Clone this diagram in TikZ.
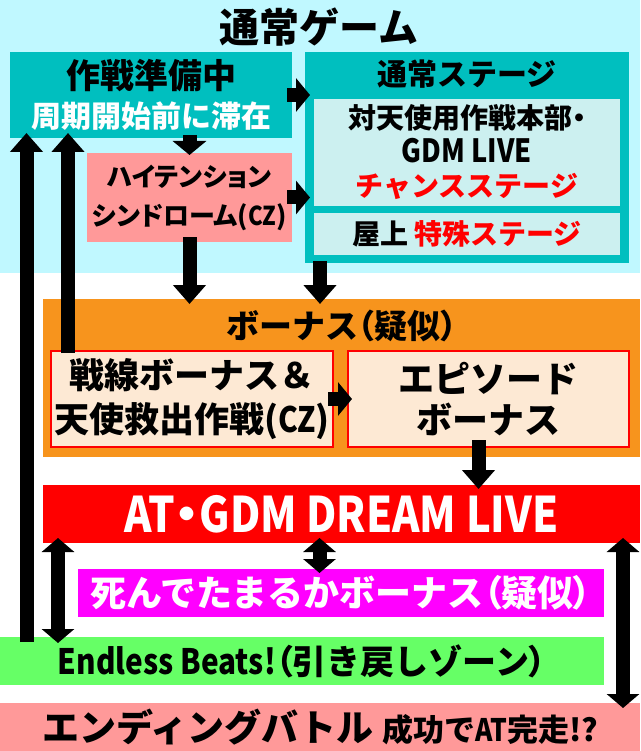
\documentclass[tikz,border=0pt]{standalone}
\usepackage{fontspec}
\setmainfont{Noto Sans CJK JP Black}
\newfontfamily\pfont{Noto Sans CJK JP Black}[RawFeature=+palt]
\newfontfamily\lat{Noto Sans CJK JP Black}[FakeStretch=0.85]
\newcommand{\openp}{{\pfont （}}
\newcommand{\closep}{{\pfont ）}}
\newcommand{\dotp}{{\pfont ・}}
\usetikzlibrary{arrows.meta}
\definecolor{cyanbg}{HTML}{C0F8FF}
\definecolor{tealbox}{HTML}{00BFBF}
\definecolor{innerbox}{HTML}{CCF0F0}
\definecolor{salmon}{HTML}{FF9999}
\definecolor{orangebox}{HTML}{F7941D}
\definecolor{peach}{HTML}{FDE9D4}
\definecolor{greenbox}{HTML}{66FF66}
\definecolor{magentabox}{HTML}{FF00FF}

\begin{document}
\begin{tikzpicture}[x=1pt,y=-1pt,
  box/.style={anchor=north west,inner sep=0pt,outer sep=0pt,align=center},
  blk/.style={line width=14pt,-{Triangle[width=32pt,length=19pt]}},
  hblk/.style={line width=14pt,-{Triangle[width=33pt,length=14pt]}},
  dblk/.style={line width=14pt,{Triangle[width=32pt,length=14pt]}-{Triangle[width=32pt,length=14pt]}}]
\useasboundingbox (0,0) rectangle (640,751);
\fill[cyanbg] (0,0) rectangle (640,273);
\node[font=\fontsize{40}{42}\selectfont] (title) at (319,27) {通常ゲーム};
\node[box,fill=tealbox,minimum width=282pt,minimum height=86pt,font=\fontsize{30}{39}\selectfont] (prep) at (10,52)
  {{\fontsize{34}{39}\selectfont 作戦準備中}\\\textcolor{white}{周期開始前に滞在}};
\node[box,fill=tealbox,minimum width=324pt,minimum height=211pt] (stage) at (305,52) {};
\node[font=\fontsize{30}{32}\selectfont] (stagetitle) at ([yshift=-22pt]stage.north) {通常ステージ};
\node[box,fill=innerbox,minimum width=306pt,minimum height=107pt,font=\fontsize{28}{34}\selectfont] (chance) at (314,99)
  {対天使用作戦本部\dotp\\{\lat\fontsize{32}{34}\selectfont GDM LIVE}\\\textcolor{red}{チャンスステージ}};
\node[box,fill=innerbox,minimum width=306pt,minimum height=42pt,font=\fontsize{28}{30}\selectfont] (roof) at (314,213)
  {屋上 \textcolor{red}{特殊ステージ}};
\node[box,fill=salmon,minimum width=205pt,minimum height=89pt,font=\pfont\fontsize{26}{39}\selectfont] (ht) at (87,153)
  {ハイテンション\\シンドローム({\lat CZ})};
\node[box,fill=orangebox,minimum width=597pt,minimum height=158pt] (bonus) at (43,299) {};
\node[font=\fontsize{33}{35}\selectfont] (bonustitle) at ([yshift=-27pt]bonus.north) {ボーナス\openp 疑似\closep};
\node[box,fill=peach,draw=red,line width=1.5pt,minimum width=282pt,minimum height=96pt,font=\fontsize{35}{44}\selectfont] (sen) at (51,351)
  {戦線ボーナス＆\\天使救出作戦({\lat CZ})};
\node[box,fill=peach,draw=red,line width=1.5pt,minimum width=281pt,minimum height=96pt,font=\fontsize{36}{41}\selectfont] (ep) at (348,351)
  {エピソード\\ボーナス};
\node[box,fill=red,text=white,minimum width=597pt,minimum height=58pt,font=\lat\fontsize{49}{50}\selectfont] (at) at (43,485)
  {AT\dotp GDM DREAM LIVE};
\node[box,fill=magentabox,text=white,minimum width=526pt,minimum height=48pt,font=\fontsize{36}{38}\selectfont] (shin) at (78,569)
  {死んでたまるかボーナス\openp 疑似\closep};
\node[box,fill=greenbox,minimum width=604pt,minimum height=48pt,font=\fontsize{34}{36}\selectfont] (endless) at (0,637)
  {{\lat\fontsize{35}{36}\selectfont Endless Beats!}\openp 引き戻しゾーン\closep};
\node[box,fill=salmon,minimum width=640pt,minimum height=48pt,font=\fontsize{37}{38}\selectfont] (ending) at (0,703)
  {エンディングバトル {\fontsize{31}{38}\selectfont 成功で{\lat AT}完走!?}};

\draw[hblk] ([xshift=-5pt]prep.east) -- ([xshift=5pt]prep.east -| stage.west);
\draw[hblk] ([xshift=-5pt]ht.east) -- ([xshift=5pt]ht.east -| stage.west);
\draw[hblk] ([yshift=3pt]ht.north |- prep.south) -- ([yshift=-2pt]ht.north);
\draw[blk] ([yshift=5pt]ht.south) -- ([yshift=-5pt]ht.south |- bonus.north);
\coordinate (stagefoot) at ([xshift=15pt]stage.south west);
\draw[blk] ([yshift=2pt]stagefoot) -- ([yshift=-5pt]stagefoot |- bonus.north);
\draw[hblk] ([xshift=-5pt]sen.east) -- ([xshift=4pt]sen.east -| ep.west);
\draw[blk] ([xshift=-10pt,yshift=7pt]ep.south) -- ([xshift=-10pt,yshift=-4pt]ep.south |- at.north);
\draw[dblk] ([xshift=-22pt,yshift=5pt]at.south) -- ([xshift=-22pt,yshift=-4pt]at.south |- shin.north);
\draw[dblk] ([xshift=15pt,yshift=5pt]at.south west) -- ([xshift=15pt,yshift=-6pt]at.south west |- endless.north);
\draw[dblk] ([xshift=-17pt,yshift=5pt]at.south east) -- ([xshift=-17pt,yshift=-5pt]at.south east |- ending.north);
\draw[blk] ([xshift=16.5pt,yshift=-5pt]prep.south west |- endless.north) -- ([xshift=16.5pt,yshift=5pt]prep.south west);
\draw[blk] ([xshift=58pt,yshift=-2pt]prep.south west |- sen.north) -- ([xshift=58pt,yshift=5pt]prep.south west);
\end{tikzpicture}
\end{document}
